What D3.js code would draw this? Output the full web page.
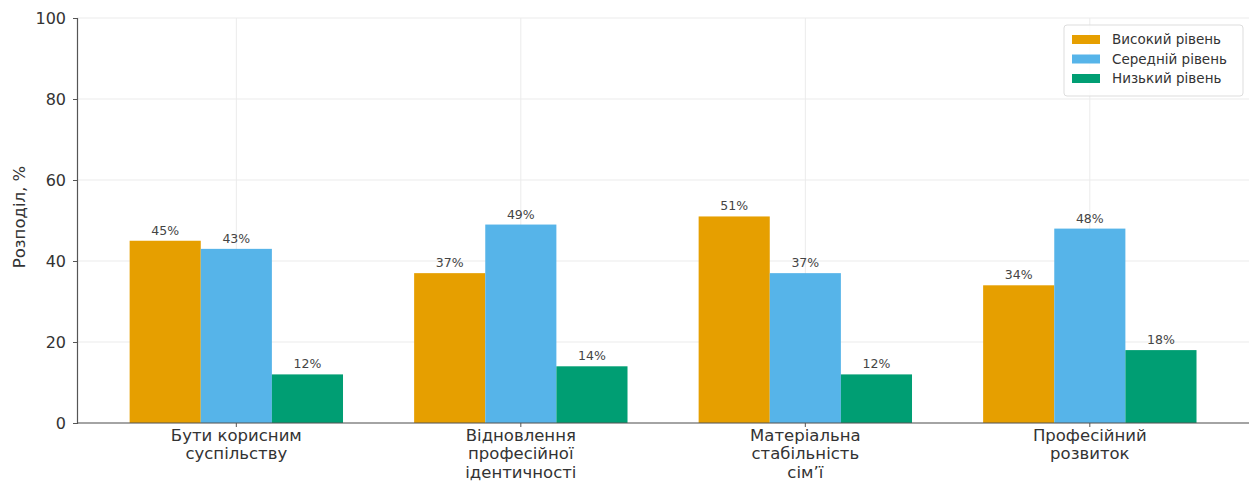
<!DOCTYPE html>
<html>
<head>
<meta charset="utf-8">
<script src="https://cdnjs.cloudflare.com/ajax/libs/d3/7.8.5/d3.min.js"></script>
<style>
  body { margin: 0; background: #fff; }
  svg { font-family: "DejaVu Sans", sans-serif; }
</style>
</head>
<body>
<svg id="chart"></svg>
<script>
const categories = [
    ["Бути корисним", "суспільству"],
    ["Відновлення", "професійної", "ідентичності"],
    ["Матеріальна", "стабільність", "сім’ї"],
    ["Професійний", "розвиток"]
];
const seriesNames = ["Високий рівень", "Середній рівень", "Низький рівень"];
const seriesColors = ["#E69F00", "#56B4E9", "#009E73"];
const highValues = [45, 37, 51, 34];
const midValues = [43, 49, 37, 48];
const lowValues = [12, 14, 12, 18];
const yTicks = [0, 20, 40, 60, 80, 100];

const seriesValues = [highValues, midValues, lowValues];

const width = 1249, height = 483;
const margin = {top: 18, right: 0, bottom: 60, left: 77};

const svg = d3.select("#chart")
    .attr("width", width)
    .attr("height", height);

// category index scale, matplotlib-like xlim
const x = d3.scaleLinear()
    .domain([-0.56, 3.56])
    .range([margin.left, margin.left + 4.12 * 284.5]);
const barW = x(0.25) - x(0);

const y = d3.scaleLinear()
    .domain([0, 100])
    .range([height - margin.bottom, margin.top]);

// grid
const grid = svg.append("g").attr("class", "grid");
grid.selectAll("line.hg")
    .data(yTicks)
    .enter().append("line")
    .attr("x1", margin.left).attr("x2", width)
    .attr("y1", d => y(d)).attr("y2", d => y(d))
    .attr("stroke", "#ebebeb").attr("stroke-width", 1);
grid.selectAll("line.vg")
    .data(categories.map((c, i) => i))
    .enter().append("line")
    .attr("x1", d => x(d)).attr("x2", d => x(d))
    .attr("y1", y(0)).attr("y2", y(100))
    .attr("stroke", "#ebebeb").attr("stroke-width", 1);

// bars
seriesValues.forEach((vals, s) => {
    const g = svg.append("g");
    g.selectAll("rect")
        .data(vals)
        .enter().append("rect")
        .attr("x", (d, i) => x(i + (s - 1) * 0.25) - barW / 2)
        .attr("y", d => y(d))
        .attr("width", barW)
        .attr("height", d => y(0) - y(d))
        .attr("fill", seriesColors[s]);
    g.selectAll("text")
        .data(vals)
        .enter().append("text")
        .attr("x", (d, i) => x(i + (s - 1) * 0.25))
        .attr("y", d => y(d) - 6)
        .attr("text-anchor", "middle")
        .attr("font-size", 12.5)
        .attr("fill", "#444")
        .text(d => d + "%");
});

// y axis
const yAxis = svg.append("g")
    .attr("transform", `translate(${margin.left},0)`)
    .call(d3.axisLeft(y).tickValues(yTicks).tickSize(4).tickPadding(7));
yAxis.select(".domain").attr("stroke", "#555").attr("stroke-width", 1.2);
yAxis.selectAll(".tick line").attr("stroke", "#555");
yAxis.selectAll(".tick text").attr("font-size", 16).attr("fill", "#333")
    .attr("font-family", "DejaVu Sans, sans-serif");

// x axis
const xAxis = svg.append("g")
    .attr("transform", `translate(0,${y(0)})`);
xAxis.append("line")
    .attr("x1", margin.left).attr("x2", width)
    .attr("stroke", "#555").attr("stroke-width", 1.2);
const xt = xAxis.selectAll("g.tick")
    .data(categories)
    .enter().append("g")
    .attr("transform", (d, i) => `translate(${x(i)},0)`);
xt.append("line").attr("y2", 4).attr("stroke", "#555");
xt.append("text")
    .attr("text-anchor", "middle")
    .attr("font-size", 16.5)
    .attr("fill", "#333")
    .selectAll("tspan")
    .data(d => d)
    .enter().append("tspan")
    .attr("x", 0)
    .attr("y", (d, j) => 18 + j * 18.3)
    .text(d => d);

// y label
svg.append("text")
    .attr("transform", `translate(25,217) rotate(-90)`)
    .attr("text-anchor", "middle")
    .attr("font-size", 16.5)
    .attr("fill", "#333")
    .text("Розподіл, %");

// legend
const legend = svg.append("g").attr("transform", "translate(1064,25)");
legend.append("rect")
    .attr("width", 179).attr("height", 71).attr("rx", 3)
    .attr("fill", "#fff").attr("fill-opacity", 0.85)
    .attr("stroke", "#ddd");
const items = legend.selectAll("g.item")
    .data(seriesNames)
    .enter().append("g")
    .attr("transform", (d, i) => `translate(8,${14 + i * 19.5})`);
items.append("rect")
    .attr("x", 0).attr("y", -4).attr("width", 28).attr("height", 9)
    .attr("fill", (d, i) => seriesColors[i]);
items.append("text")
    .attr("x", 40).attr("y", 5)
    .attr("font-size", 13.5)
    .attr("fill", "#333")
    .text(d => d);
</script>
</body>
</html>
